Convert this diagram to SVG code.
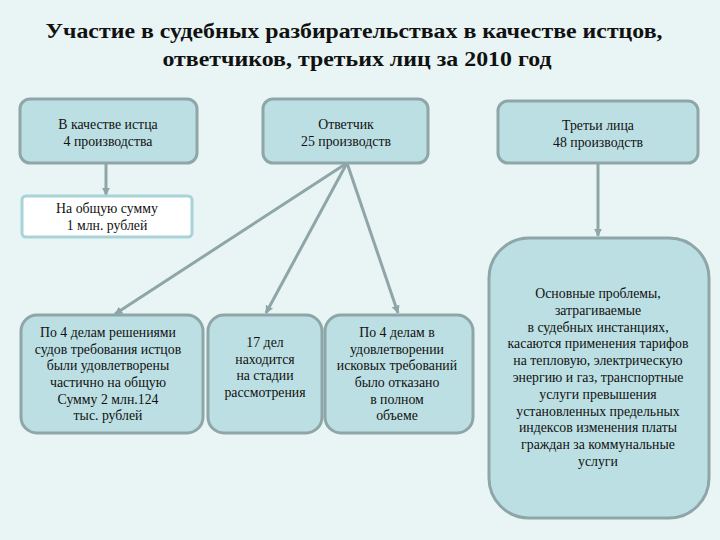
<svg xmlns="http://www.w3.org/2000/svg" width="720" height="540" viewBox="0 0 720 540">
<defs>
<style>
.bg{fill:#e9f5f5}
.box{fill:#bcdfe3;stroke:#8ea6a8;stroke-width:3}
.wbox{fill:#ffffff;stroke:#a9d3d8;stroke-width:3}
.t{font-family:"Liberation Serif","Times New Roman",serif;font-size:13.8px;fill:#111;text-anchor:middle}
.title{font-family:"Liberation Serif","Times New Roman",serif;font-size:22px;font-weight:bold;fill:#111;text-anchor:middle}
.c{stroke:#8ea6a8;stroke-width:3;fill:none;marker-end:url(#ah)}
</style>
<marker id="ah" viewBox="0 0 10 10" refX="9" refY="5" markerWidth="2.7" markerHeight="2.7" orient="auto" markerUnits="strokeWidth">
<path d="M0,0 L10,5 L0,10 z" fill="#8ea6a8"/>
</marker>
</defs>
<rect class="bg" x="0" y="0" width="720" height="540"/>
<g id="title">
<text class="title" x="354" y="38" textLength="617" lengthAdjust="spacingAndGlyphs">Участие в судебных разбирательствах в качестве истцов,</text>
<text class="title" x="357" y="66" textLength="389" lengthAdjust="spacingAndGlyphs">ответчиков, третьих лиц за 2010 год</text>
</g>
<g id="connectors">
<line class="c" x1="106" y1="163" x2="106" y2="195"/>
<line class="c" x1="598" y1="163" x2="598" y2="236"/>
<line class="c" x1="347" y1="163" x2="115" y2="314"/>
<line class="c" x1="347" y1="163" x2="266" y2="313"/>
<line class="c" x1="347" y1="163" x2="398" y2="313"/>
</g>
<g id="plaintiff">
<rect class="box" x="20" y="99" width="177" height="64" rx="10"/>
<text class="t" x="108" y="129">В качестве истца</text>
<text class="t" x="108" y="146">4 производства</text>
</g>
<g id="defendant">
<rect class="box" x="263" y="99" width="165" height="64" rx="10"/>
<text class="t" x="346" y="129">Ответчик</text>
<text class="t" x="346" y="146">25 производств</text>
</g>
<g id="third">
<rect class="box" x="498" y="101" width="200" height="62" rx="10"/>
<text class="t" x="598" y="130">Третьи лица</text>
<text class="t" x="598" y="147">48 производств</text>
</g>
<g id="sum">
<rect class="wbox" x="22" y="196" width="170" height="41" rx="4"/>
<text class="t" x="107" y="213">На общую сумму</text>
<text class="t" x="107" y="230">1 млн. рублей</text>
</g>
<g id="partial">
<rect class="box" x="21" y="315" width="182" height="118" rx="16"/>
<text class="t" x="108" y="337">По 4 делам решениями</text>
<text class="t" x="108" y="354">судов требования истцов</text>
<text class="t" x="108" y="370">были удовлетворены</text>
<text class="t" x="108" y="387">частично на общую</text>
<text class="t" x="108" y="404">Сумму 2 млн.124</text>
<text class="t" x="108" y="420">тыс. рублей</text>
</g>
<g id="pending">
<rect class="box" x="208" y="315" width="114" height="118" rx="16"/>
<text class="t" x="265" y="347">17  дел</text>
<text class="t" x="265" y="364">находится</text>
<text class="t" x="265" y="380">на стадии</text>
<text class="t" x="265" y="397">рассмотрения</text>
</g>
<g id="refused">
<rect class="box" x="325" y="315" width="148" height="118" rx="16"/>
<text class="t" x="397" y="337">По 4 делам в</text>
<text class="t" x="397" y="354">удовлетворении</text>
<text class="t" x="397" y="370">исковых требований</text>
<text class="t" x="397" y="387">было отказано</text>
<text class="t" x="397" y="404">в полном</text>
<text class="t" x="397" y="420">объеме</text>
</g>
<g id="problems">
<rect class="box" x="489" y="238" width="220" height="280" rx="40"/>
<text class="t" x="598" y="298">Основные проблемы,</text>
<text class="t" x="598" y="315">затрагиваемые</text>
<text class="t" x="598" y="332">в судебных инстанциях,</text>
<text class="t" x="598" y="348">касаются применения тарифов</text>
<text class="t" x="598" y="365">на тепловую, электрическую</text>
<text class="t" x="598" y="382">энергию и газ, транспортные</text>
<text class="t" x="598" y="399">услуги превышения</text>
<text class="t" x="598" y="416">установленных предельных</text>
<text class="t" x="598" y="432">индексов изменения платы</text>
<text class="t" x="598" y="449">граждан за коммунальные</text>
<text class="t" x="598" y="466">услуги</text>
</g>
</svg>
